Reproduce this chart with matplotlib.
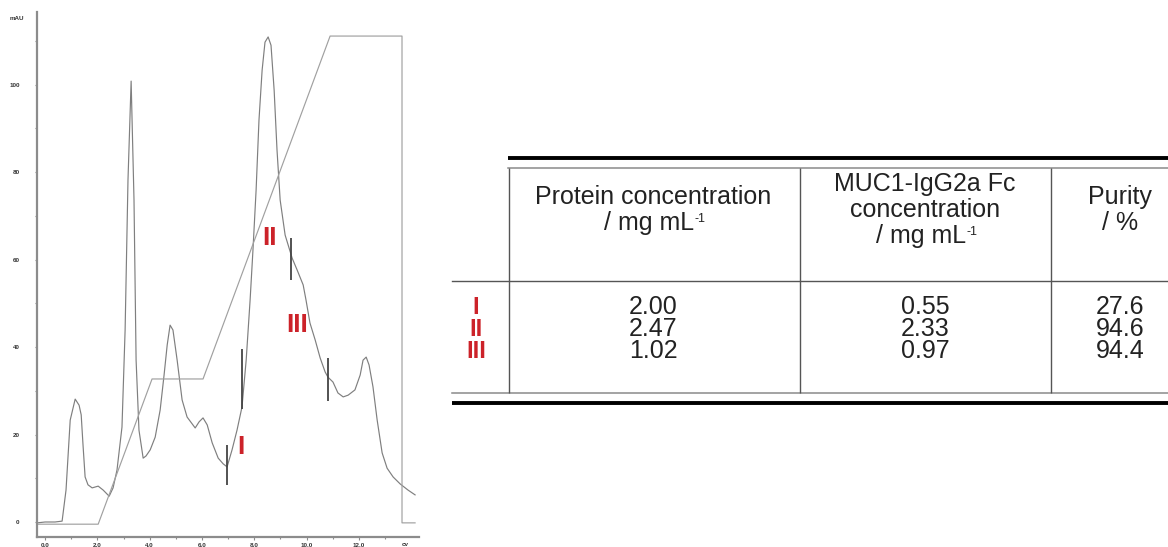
import numpy as np
import matplotlib.pyplot as plt
from matplotlib.ticker import FixedLocator, MultipleLocator, FormatStrFormatter

plt.rcParams['font.family'] = ['Liberation Sans', 'DejaVu Sans']

RED = '#cc2229'
W, H = 1168, 547

# UV trace (cv, mAU)
uv_cv = [-0.31, 0.00, 0.38, 0.65, 0.80, 0.96, 1.15, 1.30, 1.38, 1.45, 1.53, 1.64,
         1.80, 2.03, 2.22, 2.45, 2.60, 2.75, 2.94, 3.06, 3.17, 3.29, 3.40, 3.48,
         3.59, 3.75, 3.86, 4.02, 4.21, 4.40, 4.55, 4.67, 4.78, 4.89, 5.05, 5.24,
         5.43, 5.74, 5.89, 6.04, 6.20, 6.39, 6.62, 6.81, 6.96, 7.15, 7.34, 7.53,
         7.69, 7.84, 7.95, 8.07, 8.18, 8.30, 8.41, 8.53, 8.64, 8.76, 8.87, 8.99,
         9.18, 9.45, 9.64, 9.87, 9.98, 10.13, 10.33, 10.52, 10.71, 10.82, 11.01,
         11.20, 11.40, 11.59, 11.85, 12.05, 12.16, 12.28, 12.39, 12.54, 12.70,
         12.89, 13.08, 13.31, 13.58, 13.88, 14.15]
uv_mau = [-0.2, 0.0, 0.0, 0.2, 7.3, 23.3, 28.1, 26.7, 24.5, 17.6, 10.3, 8.5,
          7.8, 8.2, 7.3, 5.9, 7.8, 11.9, 21.7, 43.9, 78.2, 100.8, 73.6, 37.0,
          21.0, 14.6, 15.1, 16.5, 19.4, 25.6, 33.6, 40.5, 45.0, 43.9, 37.0, 27.9,
          24.0, 21.5, 22.9, 23.8, 22.2, 18.1, 14.6, 13.3, 12.6, 16.5, 21.0, 26.3,
          37.0, 50.7, 62.2, 75.9, 91.9, 103.3, 109.7, 110.9, 109.0, 98.7, 85.0, 73.6,
          65.6, 60.3, 57.6, 54.2, 50.7, 45.5, 41.6, 37.5, 34.3, 33.1, 32.0,
          29.5, 28.6, 29.0, 30.2, 33.6, 37.0, 37.7, 35.9, 30.9, 23.3,
          15.8, 12.3, 10.3, 8.7, 7.3, 6.2]

# gradient trace on the same scale
grad_cv = [-0.31, 2.03, 4.09, 6.04, 10.90, 13.65, 13.65, 14.15]
grad_mau = [-0.5, -0.5, 32.7, 32.7, 111.1, 111.1, -0.2, -0.2]

# fraction cut marks
cut_cv = [6.96, 7.53, 9.41, 10.82]
cut_lo = [8.5, 25.8, 55.3, 27.7]
cut_hi = [17.6, 39.5, 64.9, 37.5]

# pool labels
pool_names = ['I', 'II', 'III']
pool_cv = [7.50, 8.60, 9.64]
pool_mau = [17.1, 64.9, 45.0]

# table content ("^" marks a line that gets the mL^-1 superscript)
col_heads = [['Protein concentration', '/ mg mL^'],
             ['MUC1-IgG2a Fc', 'concentration', '/ mg mL^'],
             ['Purity', '/ %']]
protein_conc = [2.00, 2.47, 1.02]
muc1_conc = [0.55, 2.33, 0.97]
purity = [27.6, 94.6, 94.4]

fig = plt.figure(figsize=(W / 100, H / 100), dpi=100)

# chromatogram
ax = fig.add_axes([37 / W, 10 / H, (419 - 37) / W, (537 - 12) / H])
ax.plot(uv_cv, uv_mau, color='#7f7f7f', lw=0.85)
ax.plot(grad_cv, grad_mau, color='#a0a0a0', lw=0.85)
ax.vlines(cut_cv, cut_lo, cut_hi, color='#444444', lw=1.3)
for name, x, y in zip(pool_names, pool_cv, pool_mau):
    ax.text(x, y, name, color=RED, fontsize=19, fontweight='bold',
            ha='center', va='center')
ax.set_xlim(-0.31, 14.3)
ax.set_ylim(-3.43, 116.6)
for s in ['top', 'right']:
    ax.spines[s].set_visible(False)
for s in ['left', 'bottom']:
    ax.spines[s].set_color('#8c8c8c')
    ax.spines[s].set_linewidth(1.6)
ax.xaxis.set_major_locator(FixedLocator(np.arange(0, 13, 2)))
ax.xaxis.set_minor_locator(FixedLocator(np.arange(0, 14, 1)))
ax.xaxis.set_major_formatter(FormatStrFormatter('%.1f'))
ax.yaxis.set_major_locator(MultipleLocator(20))
ax.yaxis.set_minor_locator(MultipleLocator(10))
ax.yaxis.set_major_formatter(FormatStrFormatter('%d'))
ax.tick_params(axis='both', which='both', color='#8c8c8c', width=0.8,
               labelsize=4.5, labelcolor='#333333')
ax.tick_params(axis='x', which='major', length=2, pad=2)
ax.tick_params(axis='x', which='minor', length=1.5)
ax.tick_params(axis='y', which='both', length=1.5, pad=11)
for lab in ax.get_xticklabels() + ax.get_yticklabels():
    lab.set_fontweight('bold')
fig.text(17 / W, 1 - 19 / H, 'mAU', fontsize=4.5, fontweight='bold',
         color='#333333', ha='center', va='center')
fig.text(405 / W, 1 - 545 / H, 'cv', fontsize=4.5, fontweight='bold',
         color='#333333', ha='center', va='center')

# table, drawn in pixel coordinates
tax = fig.add_axes([440 / W, 0, (W - 440) / W, 1])
tax.set_xlim(440, W)
tax.set_ylim(H, 0)
tax.axis('off')
tax.plot([508, W], [158, 158], color='black', lw=2.8, clip_on=False, solid_capstyle='butt')
tax.plot([508, W], [168, 168], color='#8a8a8a', lw=1.1, clip_on=False)
tax.plot([452, W], [281, 281], color='#555555', lw=1.0, clip_on=False)
tax.plot([452, W], [393, 393], color='#8a8a8a', lw=1.1, clip_on=False)
tax.plot([452, W], [403, 403], color='black', lw=2.8, clip_on=False, solid_capstyle='butt')
tax.vlines([509, 800, 1051], 168, 393, color='#555555', lw=1.0)

col_x = [653, 925, 1120]
for cx, lines in zip(col_x, col_heads):
    y0 = 210 - 13 * (len(lines) - 1)
    for i, line in enumerate(lines):
        sup = line.endswith('^')
        t = tax.text(cx - (4 if sup else 0), y0 + 26 * i, line.rstrip('^'),
                     fontsize=18, color='#222222', ha='center', va='center')
        if sup:
            tax.annotate('-1', xy=(1.0, 0.92), xycoords=t, fontsize=9,
                         color='#222222', ha='left', va='top')

row_y = [307, 329, 351]
for i, y in enumerate(row_y):
    tax.text(476, y, pool_names[i], fontsize=17, fontweight='bold', color=RED,
             ha='center', va='center')
    tax.text(col_x[0], y, '%.2f' % protein_conc[i], fontsize=18, color='#222222',
             ha='center', va='center')
    tax.text(col_x[1], y, '%.2f' % muc1_conc[i], fontsize=18, color='#222222',
             ha='center', va='center')
    tax.text(col_x[2], y, '%.1f' % purity[i], fontsize=18, color='#222222',
             ha='center', va='center')

fig.savefig('out.png', dpi=100)
